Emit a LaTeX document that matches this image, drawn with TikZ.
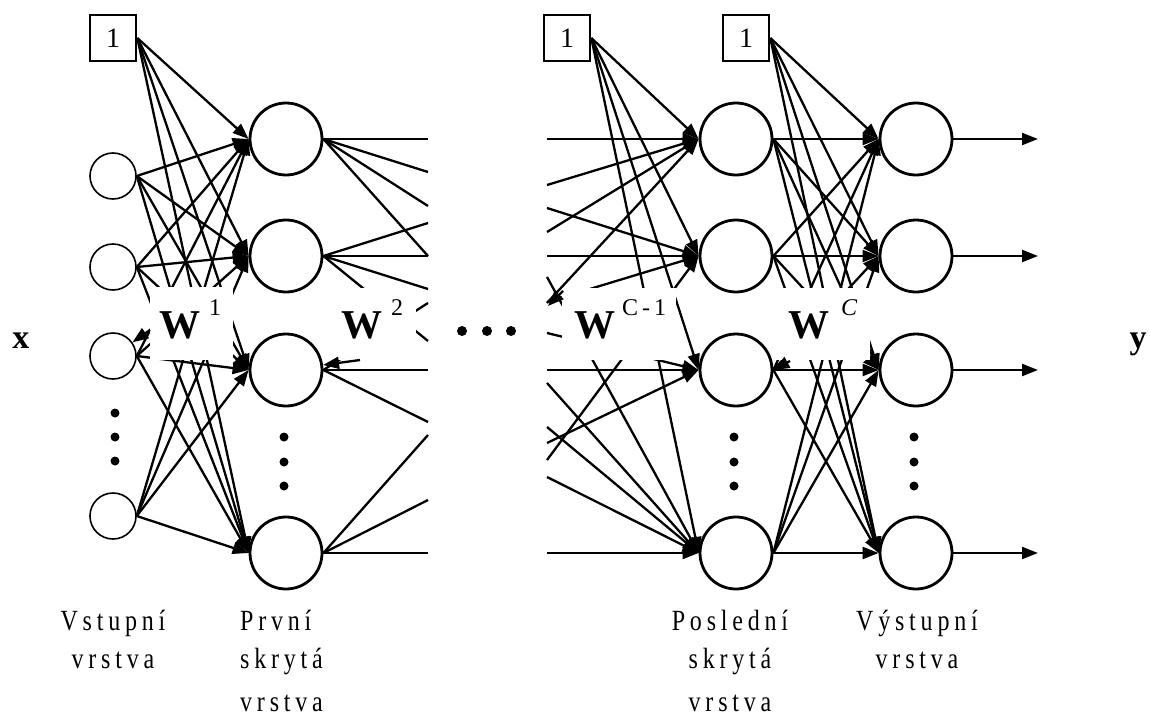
\documentclass[tikz,border=0pt]{standalone}
\usepackage{fontspec}
\usepackage{graphicx}
\setmainfont{Liberation Serif}
\newfontfamily\labfont[LetterSpace=20]{Liberation Serif}
\newcommand{\tallbox}[1]{\scalebox{1}[1.22]{#1}}
\usetikzlibrary{arrows.meta}
\begin{document}
\begin{tikzpicture}[x=1pt,y=-1pt,
  conn/.style={-{Triangle[length=16pt,width=12pt]}, line width=2.3pt},
  plain/.style={line width=2.3pt},
  inp/.style={circle, draw, line width=1.6pt, minimum size=46pt, inner sep=0pt},
  hid/.style={circle, draw, line width=2.8pt, minimum size=72pt, inner sep=0pt},
  bias/.style={rectangle, draw, line width=2.6pt, minimum size=46pt, inner sep=0pt, font=\fontsize{28}{28}\selectfont},
  dot/.style={circle, fill, minimum size=9pt, inner sep=0pt},
  mask/.style={fill=white, draw=none},
  wlab/.style={font=\fontsize{41}{41}\selectfont\bfseries, inner sep=0pt, anchor=base},
  sup/.style={font=\fontsize{24}{24}\selectfont, inner sep=0pt, anchor=base},
  lab/.style={font=\fontsize{24}{24}\labfont, inner sep=0pt, anchor=base},
  vec/.style={font=\fontsize{34}{34}\selectfont\bfseries, inner sep=0pt, anchor=base},
]
\useasboundingbox[fill=white] (0,0) rectangle (1150,725);

% nodes
\node[bias] (b1) at (113,38) {1};
\node[bias] (b2) at (567,38) {1};
\node[bias] (b3) at (746,38) {1};
\foreach \n/\y in {1/176,2/267,3/356,4/516} \node[inp] (i\n) at (113,\y) {};
\foreach \n/\y in {1/139,2/256,3/370,4/553} {
  \node[hid] (h\n) at (286,\y) {};
  \node[hid] (l\n) at (736,\y) {};
  \node[hid] (o\n) at (916,\y) {};
}
% vertical dots
\foreach \n/\y in {1/413,2/437,3/461} \node[dot] (id\n) at (115,\y) {};
\foreach \n/\y in {1/437,2/462,3/486} {
  \node[dot] (hd\n) at (284,\y) {};
  \node[dot] (ld\n) at (734,\y) {};
  \node[dot] (od\n) at (914,\y) {};
}
% middle dots
\foreach \n/\x in {1/462,2/487,3/511} \node[dot, minimum size=10pt] (md\n) at (\x,331) {};

% layer 1 (full)
\foreach \s in {b1,i1,i2,i3,i4}
  \foreach \t in {h1,h2,h3,h4}
    \draw[conn] (\s.east) -- (\t.west);
% layer C (full)
\foreach \s in {b3,l1,l2,l3,l4}
  \foreach \t in {o1,o2,o3,o4}
    \draw[conn] (\s.east) -- (\t.west);
% bias of last hidden layer
\foreach \t in {l1,l2,l3,l4}
  \draw[conn] (b2.east) -- (\t.west);

% fan out of first hidden layer (cut at x=428)
\foreach \n/\y in {1/139,2/172,3/206,4/256} {\coordinate (ra\n) at (428,\y); \draw[plain] (h1.east) -- (ra\n);}
\foreach \n/\y in {1/223,2/256,3/289,4/341} {\coordinate (rb\n) at (428,\y); \draw[plain] (h2.east) -- (rb\n);}
\foreach \n/\y in {1/370,2/422,3/303} {\coordinate (rc\n) at (428,\y); \draw[plain] (h3.east) -- (rc\n);}
\foreach \n/\y in {1/553,2/435,3/500} {\coordinate (rd\n) at (428,\y); \draw[plain] (h4.east) -- (rd\n);}

% fan in of last hidden layer (cut at x=547)
\foreach \n/\y in {1/139,2/185,3/232,4/303} {\coordinate (la\n) at (547,\y); \draw[conn] (la\n) -- (l1.west);}
\foreach \n/\y in {1/208,2/256,3/302,4/460} {\coordinate (lb\n) at (547,\y); \draw[conn] (lb\n) -- (l2.west);}
\foreach \n/\y in {1/370,2/443,3/333} {\coordinate (lc\n) at (547,\y); \draw[conn] (lc\n) -- (l3.west);}
\foreach \n/\y in {1/553,2/383,3/427,4/477,5/277} {\coordinate (ld\n) at (547,\y); \draw[conn] (ld\n) -- (l4.west);}

% white areas behind the weight labels
\fill[mask] (150,287) rectangle (233,360);
\fill[mask] (333,288) rectangle (416,360);
\fill[mask] (562,288) rectangle (676,360);
\fill[mask] (775,288) rectangle (870,360);

% stray arrow tips at the label areas
\coordinate (s1) at (150,330);
\coordinate (s2) at (360,360);
\coordinate (s3) at (790,361);
\coordinate (s4a) at (563,291);
\coordinate (s4b) at (548,306);
\draw[conn] (s1) -- (i3);
\draw[conn] (s2) -- (h3);
\draw[conn] (s3) -- (l3.east);
\draw[conn] (s4a) -- (s4b);

% weight labels
\node[wlab] (w1) at (180,338) {W};
\node[sup] (w1s) at (215,315) {1};
\node[wlab] (w2) at (362,338) {W};
\node[sup] (w2s) at (397,315) {2};
\node[wlab] (w3) at (595,338) {W};
\node[sup] (w3s) at (644,315) {C\,-\,1};
\node[wlab] (w4) at (809,338) {W};
\node[sup] (w4s) at (849,315) {\itshape C};

% outputs
\foreach \n/\y in {1/139,2/256,3/370,4/553} {
  \coordinate (e\n) at (1038,\y);
  \draw[-{Triangle[length=16pt,width=12pt]}, line width=2.3pt] (o\n.east) -- (e\n);
}

% x and y
\node[vec] (xv) at (21,348) {x};
\node[vec] (yv) at (1138,348) {y};

% layer names
\node[lab] (t1a) at (113,630) {\tallbox{Vstupní}};
\node[lab] (t1b) at (113,668) {\tallbox{vrstva}};
\node[lab, anchor=base west] (t2a) at (240,630) {\tallbox{První}};
\node[lab, anchor=base west] (t2b) at (240,668) {\tallbox{skrytá}};
\node[lab, anchor=base west] (t2c) at (240,711) {\tallbox{vrstva}};
\node[lab] (t3a) at (730,630) {\tallbox{Poslední}};
\node[lab] (t3b) at (730,668) {\tallbox{skrytá}};
\node[lab] (t3c) at (730,711) {\tallbox{vrstva}};
\node[lab] (t4a) at (917,630) {\tallbox{Výstupní}};
\node[lab] (t4b) at (917,668) {\tallbox{vrstva}};
\end{tikzpicture}
\end{document}
